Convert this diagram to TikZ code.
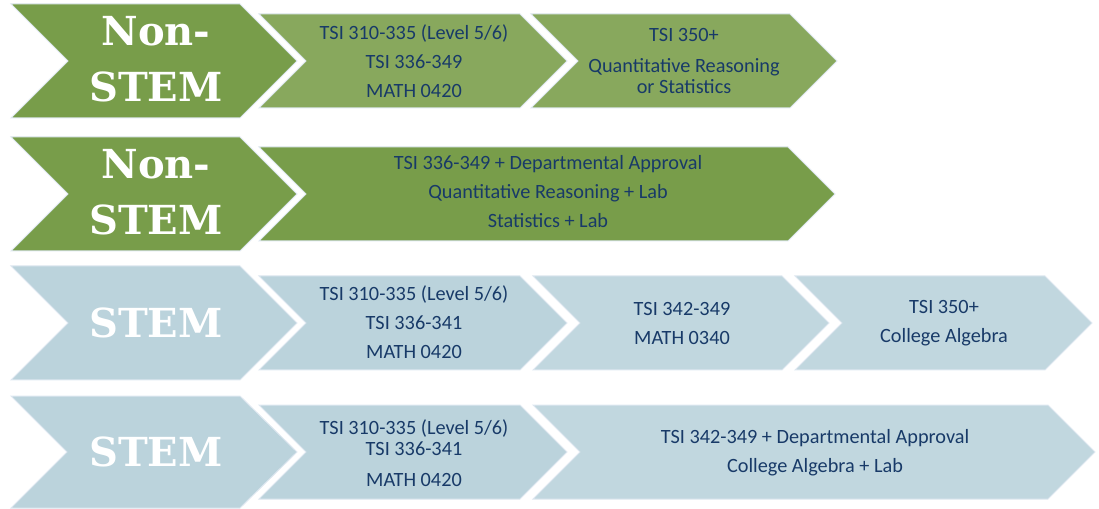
\documentclass[tikz,border=0pt]{standalone}
\usepackage{fontspec}
\setmainfont{Carlito}
\newfontfamily\slabfont{DejaVu Serif}
\definecolor{greenDark}{RGB}{120,157,74}
\definecolor{greenLight}{RGB}{136,168,93}
\definecolor{blueDark}{RGB}{187,211,220}
\definecolor{blueLight}{RGB}{193,215,223}
\definecolor{edgeLine}{RGB}{222,231,240}
\definecolor{navyText}{RGB}{24,58,104}

\begin{document}
\begin{tikzpicture}[x=0.75pt,y=0.75pt,yscale=-1,xscale=1,
  chevGD/.style={fill=greenDark, draw=edgeLine, line width=0.75},
  chevGL/.style={fill=greenLight, draw=edgeLine, line width=0.75},
  chevBD/.style={fill=blueDark, draw=edgeLine, line width=0.75},
  chevBL/.style={fill=blueLight, draw=edgeLine, line width=0.75},
  bigtxt/.style={text=white, align=center, inner sep=0.75pt, font=\slabfont\bfseries\fontsize{30}{42}\selectfont},
  smalltxt/.style={text=navyText, align=center, inner sep=0.75pt, font=\fontsize{15.2}{21.75}\selectfont}]
\useasboundingbox (0,0) rectangle (1099,509);

%Shape: Chevron [row 1]
\draw [chevGD] (11,4) -- (240,4) -- (297,61) -- (240,118) -- (11,118) -- (68,61) -- cycle ;
%Shape: Chevron
\draw [chevGL] (259,14) -- (520,14) -- (567,61) -- (520,108) -- (259,108) -- (306,61) -- cycle ;
%Shape: Chevron
\draw [chevGL] (531,14) -- (790,14) -- (837,61) -- (790,108) -- (531,108) -- (578,61) -- cycle ;

%Shape: Chevron [row 2]
\draw [chevGD] (11,137) -- (240,137) -- (297,194) -- (240,251) -- (11,251) -- (68,194) -- cycle ;
%Shape: Chevron
\draw [chevGD] (259,147) -- (788,147) -- (835,194) -- (788,241) -- (259,241) -- (306,194) -- cycle ;

%Shape: Chevron [row 3]
\draw [chevBD] (11,266) -- (240,266) -- (297,323) -- (240,380) -- (11,380) -- (68,323) -- cycle ;
%Shape: Chevron
\draw [chevBD] (259,276) -- (520,276) -- (567,323) -- (520,370) -- (259,370) -- (306,323) -- cycle ;
%Shape: Chevron
\draw [chevBL] (533,276) -- (782,276) -- (829,323) -- (782,370) -- (533,370) -- (580,323) -- cycle ;
%Shape: Chevron
\draw [chevBL] (795,276) -- (1045,276) -- (1092,323) -- (1045,370) -- (795,370) -- (842,323) -- cycle ;

%Shape: Chevron [row 4]
\draw [chevBD] (11,396) -- (240,396) -- (297,452) -- (240,508) -- (11,508) -- (67,452) -- cycle ;
%Shape: Chevron
\draw [chevBD] (259,405) -- (520,405) -- (567,452) -- (520,499) -- (259,499) -- (306,452) -- cycle ;
%Shape: Chevron
\draw [chevBL] (533,405) -- (1048,405) -- (1095,452) -- (1048,499) -- (533,499) -- (580,452) -- cycle ;

% Text Node
\draw (156,59) node (nonstemA) [bigtxt] {Non-\\STEM};
% Text Node
\draw (414,61) node (rowAstepA) [smalltxt] {TSI 310-335 (Level 5/6)\\TSI 336-349\\MATH 0420};
% Text Node
\draw (684,61) node (rowAstepB) [smalltxt] {TSI 350+\\[1pt]Quantitative Reasoning\\[-6pt]or Statistics};

% Text Node
\draw (156,192) node (nonstemB) [bigtxt] {Non-\\STEM};
% Text Node
\draw (548,192) node (rowBstepA) [smalltxt] {TSI 336-349 + Departmental Approval\\Quantitative Reasoning + Lab\\Statistics + Lab};

% Text Node
\draw (156,323) node (stemA) [bigtxt] {STEM};
% Text Node
\draw (414,322) node (rowCstepA) [smalltxt] {TSI 310-335 (Level 5/6)\\TSI 336-341\\MATH 0420};
% Text Node
\draw (682,323) node (rowCstepB) [smalltxt] {TSI 342-349\\MATH 0340};
% Text Node
\draw (944,323) node (rowCstepC) [smalltxt] {TSI 350+\\College Algebra};

% Text Node
\draw (156,452) node (stemB) [bigtxt] {STEM};
% Text Node
\draw (414,453) node (rowDstepA) [smalltxt] {TSI 310-335 (Level 5/6)\\[-6pt]TSI 336-341\\[1pt]MATH 0420};
% Text Node
\draw (815,453) node (rowDstepB) [smalltxt] {TSI 342-349 + Departmental Approval\\College Algebra + Lab};

\end{tikzpicture}
\end{document}
